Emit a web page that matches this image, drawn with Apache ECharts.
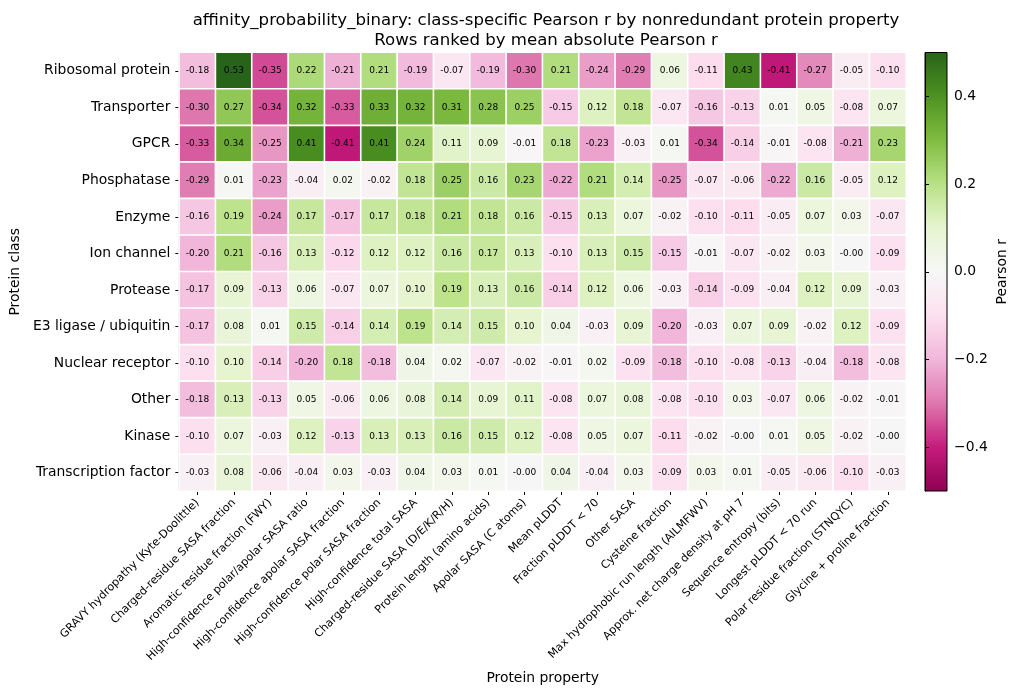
<!DOCTYPE html>
<html>
<head>
<meta charset="utf-8">
<title>Pearson r heatmap</title>
<script src="https://cdn.jsdelivr.net/npm/echarts@6.0.0/dist/echarts.min.js"></script>
<style>
    html, body { margin: 0; padding: 0; background: #fff; }
    #main { width: 1019px; height: 696px; }
</style>
</head>
<body>
<div id="main"></div>
<script>
// 蛋白类别（从上到下）
var proteinClasses = ['Ribosomal protein', 'Transporter', 'GPCR', 'Phosphatase', 'Enzyme', 'Ion channel',
    'Protease', 'E3 ligase / ubiquitin', 'Nuclear receptor', 'Other', 'Kinase', 'Transcription factor'];

// 蛋白属性（从左到右）
var proteinProperties = ['GRAVY hydropathy (Kyte-Doolittle)', 'Charged-residue SASA fraction',
    'Aromatic residue fraction (FWY)', 'High-confidence polar/apolar SASA ratio',
    'High-confidence apolar SASA fraction', 'High-confidence polar SASA fraction',
    'High-confidence total SASA', 'Charged-residue SASA (D/E/K/R/H)', 'Protein length (amino acids)',
    'Apolar SASA (C atoms)', 'Mean pLDDT', 'Fraction pLDDT < 70', 'Other SASA', 'Cysteine fraction',
    'Max hydrophobic run length (AILMFWV)', 'Approx. net charge density at pH 7', 'Sequence entropy (bits)',
    'Longest pLDDT < 70 run', 'Polar residue fraction (STNQYC)', 'Glycine + proline fraction'];

// 每行一个类别的 Pearson r
var pearsonR = [
    [-0.18, 0.53, -0.35, 0.22, -0.21, 0.21, -0.19, -0.07, -0.19, -0.30, 0.21, -0.24, -0.29, 0.06, -0.11, 0.43, -0.41, -0.27, -0.05, -0.10],
    [-0.30, 0.27, -0.34, 0.32, -0.33, 0.33, 0.32, 0.31, 0.28, 0.25, -0.15, 0.12, 0.18, -0.07, -0.16, -0.13, 0.01, 0.05, -0.08, 0.07],
    [-0.33, 0.34, -0.25, 0.41, -0.41, 0.41, 0.24, 0.11, 0.09, -0.01, 0.18, -0.23, -0.03, 0.01, -0.34, -0.14, -0.01, -0.08, -0.21, 0.23],
    [-0.29, 0.01, -0.23, -0.04, 0.02, -0.02, 0.18, 0.25, 0.16, 0.23, -0.22, 0.21, 0.14, -0.25, -0.07, -0.06, -0.22, 0.16, -0.05, 0.12],
    [-0.16, 0.19, -0.24, 0.17, -0.17, 0.17, 0.18, 0.21, 0.18, 0.16, -0.15, 0.13, 0.07, -0.02, -0.10, -0.11, -0.05, 0.07, 0.03, -0.07],
    [-0.20, 0.21, -0.16, 0.13, -0.12, 0.12, 0.12, 0.16, 0.17, 0.13, -0.10, 0.13, 0.15, -0.15, -0.01, -0.07, -0.02, 0.03, -0.003, -0.09],
    [-0.17, 0.09, -0.13, 0.06, -0.07, 0.07, 0.10, 0.19, 0.13, 0.16, -0.14, 0.12, 0.06, -0.03, -0.14, -0.09, -0.04, 0.12, 0.09, -0.03],
    [-0.17, 0.08, 0.01, 0.15, -0.14, 0.14, 0.19, 0.14, 0.15, 0.10, 0.04, -0.03, 0.09, -0.20, -0.03, 0.07, 0.09, -0.02, 0.12, -0.09],
    [-0.10, 0.10, -0.14, -0.20, 0.18, -0.18, 0.04, 0.02, -0.07, -0.02, -0.01, 0.02, -0.09, -0.18, -0.10, -0.08, -0.13, -0.04, -0.18, -0.08],
    [-0.18, 0.13, -0.13, 0.05, -0.06, 0.06, 0.08, 0.14, 0.09, 0.11, -0.08, 0.07, 0.08, -0.08, -0.10, 0.03, -0.07, 0.06, -0.02, -0.01],
    [-0.10, 0.07, -0.03, 0.12, -0.13, 0.13, 0.13, 0.16, 0.15, 0.12, -0.08, 0.05, 0.07, -0.11, -0.02, -0.003, 0.01, 0.05, -0.02, -0.003],
    [-0.03, 0.08, -0.06, -0.04, 0.03, -0.03, 0.04, 0.03, 0.01, -0.003, 0.04, -0.04, 0.03, -0.09, 0.03, 0.01, -0.05, -0.06, -0.10, -0.03]
];

// 色条刻度
var colorbarTicks = [-0.4, -0.2, 0, 0.2, 0.4];

// PiYG 色表
var piyg = ['#8e0152', '#c51b7d', '#de77ae', '#f1b6da', '#fde0ef', '#f7f7f7',
    '#e6f5d0', '#b8e186', '#7fbc41', '#4d9221', '#276419'];

var font = 'DejaVu Sans';

var heatData = [];
for (var r = 0; r < pearsonR.length; r++) {
    for (var c = 0; c < pearsonR[r].length; c++) {
        heatData.push([c, r, pearsonR[r][c]]);
    }
}

var gradStops = piyg.map(function (col, i) {
    return { offset: i / (piyg.length - 1), color: col };
});

var blackLine = { show: true, lineStyle: { color: '#000', width: 1 } };

var myChart = echarts.init(document.getElementById('main'));
var option = {
    backgroundColor: '#fff',
    animation: false,
    textStyle: { fontFamily: font },
    title: {
        text: 'affinity_probability_binary: class-specific Pearson r by nonredundant protein property\nRows ranked by mean absolute Pearson r',
        left: 541,
        top: 6,
        textAlign: 'center',
        textStyle: { fontFamily: font, fontSize: 16.6, fontWeight: 'normal', color: '#000', lineHeight: 20 }
    },
    grid: [
        { left: 177.5, top: 52.5, width: 728.5, height: 438.5, show: true, borderColor: '#000', borderWidth: 1, backgroundColor: 'transparent' },
        { left: 925, top: 52.5, width: 22, height: 438.5, show: true, borderColor: '#000', borderWidth: 1,
          backgroundColor: new echarts.graphic.LinearGradient(0, 1, 0, 0, gradStops) }
    ],
    xAxis: [
        {
            type: 'category', gridIndex: 0, data: proteinProperties,
            name: 'Protein property', nameLocation: 'middle', nameGap: 180,
            nameTextStyle: { fontFamily: font, fontSize: 13.9, color: '#000' },
            axisLine: blackLine,
            axisTick: { show: true, alignWithLabel: true, inside: false, length: 4, lineStyle: { color: '#000' } },
            axisLabel: { rotate: 45, interval: 0, margin: 10, fontFamily: font, fontSize: 11.1, color: '#000' },
            splitLine: { show: false }
        },
        {
            type: 'value', gridIndex: 1, show: false, min: 0, max: 1
        }
    ],
    yAxis: [
        {
            type: 'category', gridIndex: 0, data: proteinClasses, inverse: true,
            name: 'Protein class', nameLocation: 'middle', nameGap: 153, nameRotate: 90,
            nameTextStyle: { fontFamily: font, fontSize: 13.9, color: '#000' },
            axisLine: blackLine,
            axisTick: { show: true, alignWithLabel: true, inside: false, length: 4, lineStyle: { color: '#000' } },
            axisLabel: { interval: 0, margin: 9, fontFamily: font, fontSize: 13.9, color: '#000' },
            splitLine: { show: false }
        },
        {
            type: 'value', gridIndex: 1, position: 'right', min: -0.5, max: 0.5,
            name: 'Pearson r', nameLocation: 'middle', nameGap: 48, nameRotate: 90,
            nameTextStyle: { fontFamily: font, fontSize: 13.9, color: '#000' },
            axisLine: blackLine,
            axisTick: { show: true, inside: false, length: 4, customValues: colorbarTicks, lineStyle: { color: '#000' } },
            axisLabel: {
                customValues: colorbarTicks, margin: 7, fontFamily: font, fontSize: 13.9, color: '#000',
                formatter: function (v) {
                    var s = Math.abs(v).toFixed(1);
                    return v < 0 ? '\u2212' + s : s;
                }
            },
            splitLine: { show: false }
        }
    ],
    visualMap: {
        show: false, seriesIndex: 0, min: -0.5, max: 0.5, calculable: false,
        inRange: { color: piyg }
    },
    series: [
        {
            type: 'heatmap', xAxisIndex: 0, yAxisIndex: 0, data: heatData,
            itemStyle: { borderColor: '#fff', borderWidth: 1.6 },
            label: {
                show: true, fontFamily: font, fontSize: 9, color: '#000',
                formatter: function (p) { return p.value[2].toFixed(2); }
            },
            emphasis: { disabled: true }
        }
    ]
};
if (option && typeof option === "object") {
    myChart.setOption(option, true);
}
</script>
</body>
</html>
